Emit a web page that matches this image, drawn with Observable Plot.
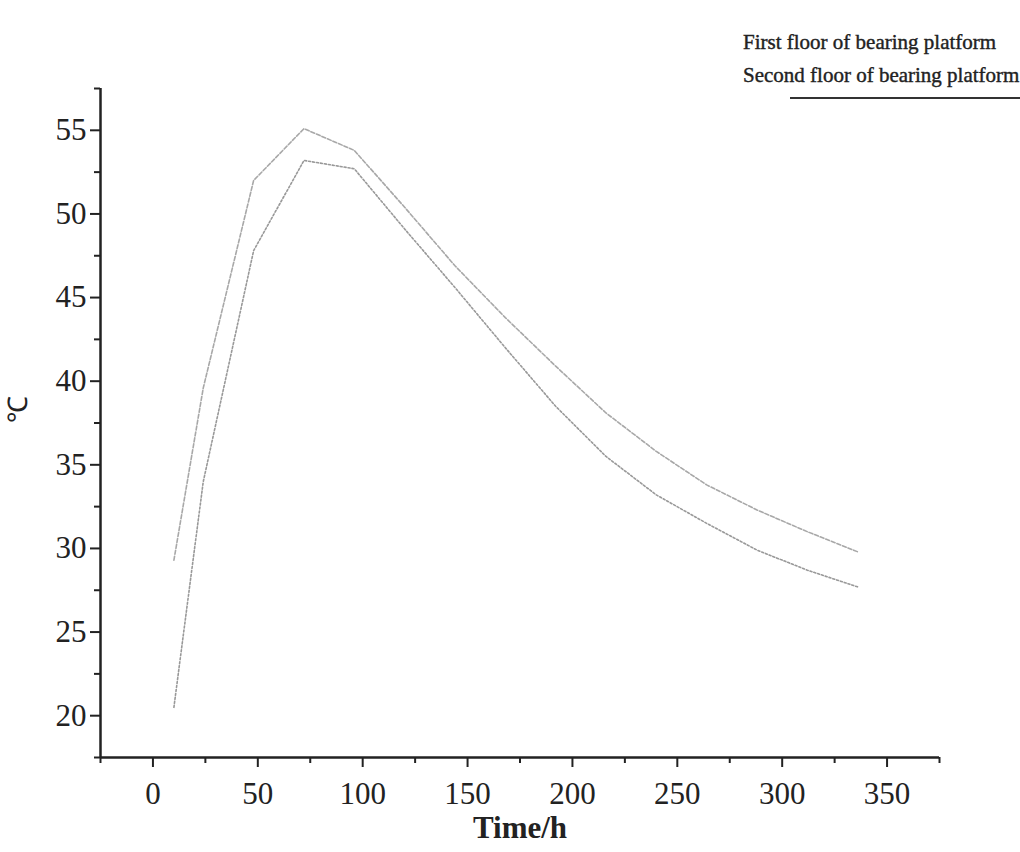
<!DOCTYPE html>
<html>
<head>
<meta charset="utf-8">
<script src="https://cdn.jsdelivr.net/npm/d3@7"></script>
<script src="https://cdn.jsdelivr.net/npm/@observablehq/plot@0.6"></script>
<style>
  html, body { margin: 0; padding: 0; background: #fff; }
  #wrap { position: relative; width: 1020px; height: 852px; overflow: hidden; }
  #legend { position: absolute; left: 743px; top: 26px; font-family: "Liberation Serif", "Times New Roman", serif; font-size: 21px; color: #222; font-weight: normal; -webkit-text-stroke: 0.4px #222; line-height: 33px; white-space: nowrap; }
  #legendLine { position: absolute; left: 790px; top: 97px; width: 240px; height: 2px; background: #333; }
</style>
</head>
<body>
<div id="wrap">
  <div id="chart"></div>
  <div id="legend"></div>
  <div id="legendLine"></div>
</div>
<script>
const seriesNames = ["First floor of bearing platform", "Second floor of bearing platform"];
const timeHours = [10, 24, 48, 72, 96, 120, 144, 168, 192, 216, 240, 264, 288, 312, 336];
const firstFloor = [29.3, 39.6, 52.0, 55.1, 53.8, 50.4, 46.9, 43.8, 40.9, 38.1, 35.8, 33.8, 32.3, 31.0, 29.8];
const secondFloor = [20.5, 34.0, 47.8, 53.2, 52.7, 49.1, 45.6, 42.0, 38.5, 35.5, 33.2, 31.5, 29.9, 28.7, 27.7];
const xMajorTicks = [0, 50, 100, 150, 200, 250, 300, 350];
const xMinorTicks = [-25, 25, 75, 125, 175, 225, 275, 325, 375];
const yMajorTicks = [20, 25, 30, 35, 40, 45, 50, 55];
const yMinorTicks = [17.5, 22.5, 27.5, 32.5, 37.5, 42.5, 47.5, 52.5, 57.5];
const xLabel = "Time/h";
const yLabel = "℃";

const data1 = timeHours.map((t, i) => ({t, v: firstFloor[i], s: seriesNames[0]}));
const data2 = timeHours.map((t, i) => ({t, v: secondFloor[i], s: seriesNames[1]}));

const chart = Plot.plot({
  width: 1020,
  height: 852,
  marginLeft: 100,
  marginRight: 81,
  marginTop: 88,
  marginBottom: 95,
  style: {fontFamily: "'Liberation Serif', 'Times New Roman', serif", color: "#222", background: "#fff"},
  x: {domain: [-25, 375]},
  y: {domain: [17.5, 57.5]},
  marks: [
    Plot.line(data1, {x: "t", y: "v", stroke: "#a8a8a8", strokeWidth: 1.6, strokeDasharray: "4,2"}),
    Plot.line(data2, {x: "t", y: "v", stroke: "#999", strokeWidth: 1.6, strokeDasharray: "2,2"}),
    Plot.axisX({ticks: xMajorTicks, tickSize: 10, tickPadding: 14, fontSize: 31, label: null, strokeWidth: 2, stroke: "#222"}),
    Plot.axisX({ticks: xMinorTicks, tickSize: 6, text: null, label: null, strokeWidth: 2, stroke: "#222"}),
    Plot.axisY({ticks: yMajorTicks, tickSize: 10, tickPadding: 4, fontSize: 31, label: null, strokeWidth: 2, stroke: "#222"}),
    Plot.axisY({ticks: yMinorTicks, tickSize: 6, text: null, label: null, strokeWidth: 2, stroke: "#222"}),
    Plot.ruleX([-25], {stroke: "#222", strokeWidth: 2.5}),
    Plot.ruleY([17.5], {stroke: "#222", strokeWidth: 2.5}),
    Plot.text([xLabel], {frameAnchor: "bottom", dy: 80, fontSize: 31, fontWeight: "bold", fill: "#222"}),
    Plot.text([yLabel], {frameAnchor: "left", dx: -82, rotate: -90, fontSize: 27, fill: "#222"})
  ]
});
document.getElementById("chart").appendChild(chart);
document.getElementById("legend").innerHTML = seriesNames.map(n => `<div>${n}</div>`).join("");
</script>
</body>
</html>
